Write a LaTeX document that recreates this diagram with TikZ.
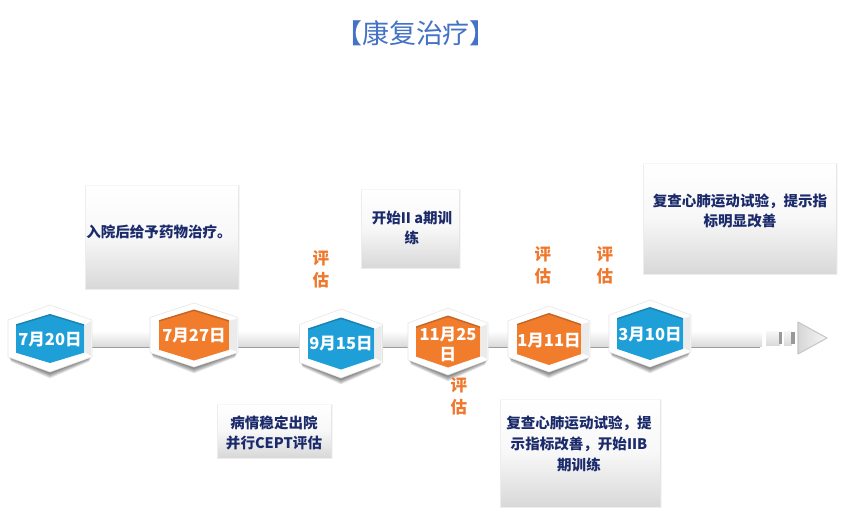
\documentclass[tikz,border=0pt]{standalone}
\usepackage{fontspec}
\setmainfont{Noto Sans CJK SC}
\usetikzlibrary{calc}
\definecolor{navy}{HTML}{1B2A6B}
\definecolor{hexblue}{HTML}{1F9FD8}
\definecolor{hexorange}{HTML}{F07C2C}
\definecolor{titleblue}{HTML}{4472C4}
\definecolor{evalorange}{HTML}{F0782D}
\tikzset{
  note/.style={inner sep=0pt,text=navy,font=\bfseries\fontsize{10.9pt}{15.5pt}\selectfont,align=center},
  evalmark/.style={inner sep=0pt,text=evalorange,font=\bfseries\fontsize{12.4pt}{16.5pt}\selectfont,align=center},
  datemark/.style={inner sep=0pt,text=white,font=\bfseries\fontsize{12.4pt}{15pt}\selectfont,align=center},
  panel/.style={top color=white,bottom color=black!15,middle color=black!3},
}
% soft shadow of any rectangle
\newcommand{\softrect}[4]{%
  \foreach \s in {3,2,1}{
    \fill[black,opacity=.035] (#1-\s*.5,#2-\s*.5+.5) rectangle (#3+\s*.5,#4+\s*.5+.5);
  }
  \path[panel] (#1,#2) rectangle (#3,#4);
}
% name, centre x, centre y, half widths/heights outer and inner, colour
\newcommand{\hexmark}[8]{%
  \begin{scope}[shift={(#2,#3)}]
    \foreach \s in {1,...,6}{
      \fill[black,opacity=.09] (-#4+\s*.5,-#5*.52+5) -- (0,-#5+5+\s*.9-3) -- (#4-\s*.5,-#5*.52+5) -- (#4-\s*.5,#5*.5+\s*.9+1) -- (0,#5+\s*.9+1) -- (-#4+\s*.5,#5*.5+\s*.9+1) -- cycle;
    }
    \path[fill=white,draw=black!10,line width=.4pt,line join=round] (-#4,-#5*.55) -- (0,-#5) -- (#4,-#5*.55) -- (#4,#5*.55) -- (0,#5) -- (-#4,#5*.55) -- cycle;
    \fill[black!8] (#4-1,-#5*.55+1) -- (#6+.5,-#7*.55) -- (#6+.5,#7*.55) -- (#4-1,#5*.55-1) -- cycle;
    \fill[#8] (-#6,-#7*.58) -- (0,-#7) -- (#6,-#7*.58) -- (#6,#7*.58) -- (0,#7) -- (-#6,#7*.58) -- cycle;
    \fill[black,opacity=.18] (-#6,-#7*.58) -- (0,-#7) -- (#6,-#7*.58) -- (#6,-#7*.58+1.5) -- (0,-#7+1.5) -- (-#6,-#7*.58+1.5) -- cycle;
  \end{scope}
  \coordinate (#1) at (#2,#3);
}
\begin{document}
\begin{tikzpicture}[x=0.75pt,y=-0.75pt]
\useasboundingbox (0,0) rectangle (857,529);
\fill[white] (0,0) rectangle (857,529);

% title
\node[inner sep=0pt,text=titleblue,font=\fontsize{20.2pt}{22pt}\selectfont] (title) at (416,33) {【康复治疗】};

% timeline bar
\fill[black!38] (20,345) rectangle (760,348);
\path[top color=white,bottom color=black!14] (20,331) rectangle (762,346);
\path[top color=black!3,bottom color=black!14] (766,331) rectangle (780,345);
\path[top color=black!3,bottom color=black!14] (784,331) rectangle (792,345);
\fill[black!40] (779,332) rectangle (782,344);
\fill[black!40] (791,332) rectangle (795,344);
\path[left color=black!16,right color=black!3,draw=black!22,line width=.8pt,line join=round] (798,322) -- (827,338) -- (798,354) -- cycle;

% panels
\softrect{86}{186}{238}{288}
\softrect{362}{190}{459}{267}
\softrect{644}{164}{836}{273}
\softrect{218}{405}{331}{457}
\softrect{501}{400}{660}{506}

% hexagons
\hexmark{h1}{50}{338.5}{42}{33.5}{34}{24.5}{hexblue}
\hexmark{h2}{194}{335}{44}{32}{35}{25.5}{hexorange}
\hexmark{h3}{341}{343.5}{41.5}{34.5}{33}{26}{hexblue}
\hexmark{h4}{448}{341.5}{40}{33.5}{32}{26}{hexorange}
\hexmark{h5}{549}{339}{41}{33}{32}{26}{hexorange}
\hexmark{h6}{650}{333.5}{41}{33.5}{33}{26.5}{hexblue}

% date labels
\node[datemark] (d1) at (50,340) {7月20日};
\node[datemark] (d2) at (194,336) {7月27日};
\node[datemark] (d3) at (341,344) {9月15日};
\node[datemark] (d4) at (448,344) {11月25\\日};
\node[datemark] (d5) at (549,341) {1月11日};
\node[datemark] (d6) at (650,335) {3月10日};

% notes
\node[note] (n1) at (159,232) {入院后给予药物治疗。};
\node[note] (n2) at (412,228) {开始II a期训\\练};
\node[note] (n3) at (740,211) {复查心肺运动试验，提示指\\标明显改善};
\node[note] (n4) at (274,433) {病情稳定出院\\并行CEPT评估};
\node[note] (n5) at (579,444) {复查心肺运动试验，提\\示指标改善，开始IIB\\期训练};

% evaluation marks
\node[evalmark] (e1) at (321,269) {评\\估};
\node[evalmark] (e2) at (459,396) {评\\估};
\node[evalmark] (e3) at (543,265) {评\\估};
\node[evalmark] (e4) at (605,265) {评\\估};
\end{tikzpicture}
\end{document}
